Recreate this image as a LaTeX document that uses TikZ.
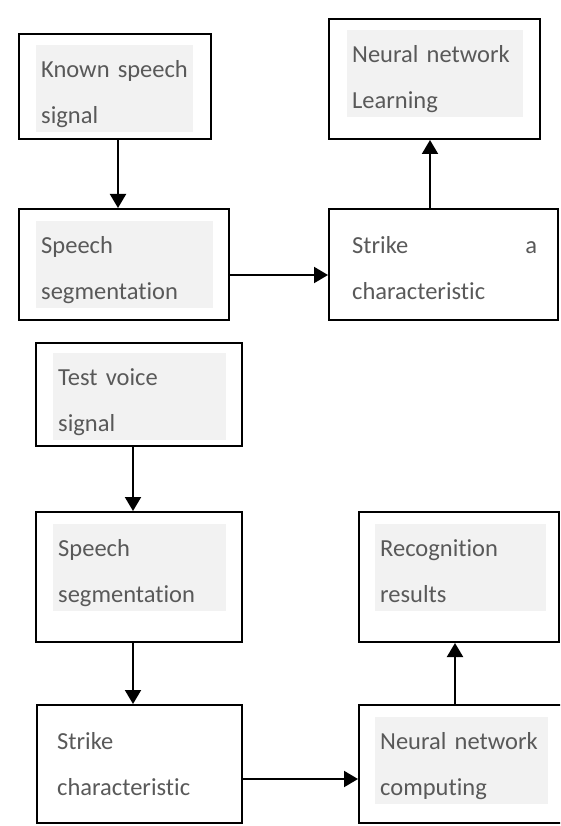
\documentclass[tikz,border=0pt]{standalone}
\usepackage{fontspec}
\setmainfont[Ligatures=NoCommon]{Carlito}
\usetikzlibrary{arrows.meta}
\newcommand{\twolines}[2]{\rule{0pt}{32pt}#1\\#2\rule[-9pt]{0pt}{9pt}}

\begin{document}
\begin{tikzpicture}[x=1pt,y=-1pt,
    box/.style={draw,line width=2pt,inner sep=0pt},
    shade/.style={fill=black!5,anchor=north west,inner xsep=5pt,inner ysep=0pt,align=left,text=black!65,font=\fontsize{24.5}{46}\selectfont},
    plain/.style={shade,fill=none},
    arr/.style={line width=2pt,-{Triangle[length=14pt,width=16pt]}}]
\useasboundingbox (0,0) rectangle (560,826);
\clip (0,0) rectangle (560,826);
% training part
\node[box,minimum width=192,minimum height=105] (known) at (115,86.5) {};
\node[box,minimum width=211,minimum height=120] (learn) at (434.5,79) {};
\node[box,minimum width=210,minimum height=111] (seg1) at (124,264.5) {};
\node[box,minimum width=229,minimum height=111] (strike1) at (443.5,264.5) {};
\node[shade,text width=147] (knowntext) at (36,45) {\twolines{Known speech}{signal}};
\node[shade,text width=166] (learntext) at (347,30) {\twolines{Neural network}{Learning}};
\node[shade,text width=167] (seg1text) at (36,221) {\twolines{Speech}{segmentation}};
\node[plain,text width=185] (strike1text) at (347,221) {\twolines{Strike \hfill a}{characteristic}};

% recognition part
\node[box,minimum width=206,minimum height=103] (test) at (139,394.5) {};
\node[box,minimum width=206,minimum height=130] (seg2) at (139,577) {};
\node[box,minimum width=200,minimum height=130] (result) at (459,577) {};
\node[box,minimum width=205,minimum height=118] (strike2) at (139.5,764) {};
\node[box,minimum width=216,minimum height=118] (compute) at (467,764) {};
\node[shade,text width=163] (testtext) at (53,353) {\twolines{Test voice}{signal}};
\node[shade,text width=163] (seg2text) at (53,524) {\twolines{Speech}{segmentation}};
\node[shade,text width=161] (resulttext) at (375,524) {\twolines{Recognition}{results}};
\node[plain,text width=170] (strike2text) at (52,717) {\twolines{Strike}{characteristic}};
\node[shade,text width=163] (computetext) at (375,717) {\twolines{Neural network}{computing}};

\coordinate (k1) at ([xshift=3pt]known.south);
\coordinate (s1) at ([yshift=-10.5pt]seg1.east);
\coordinate (l1) at ([xshift=-4.5pt]learn.south);
\coordinate (t1) at ([xshift=-6pt]test.south);
\coordinate (s2) at ([xshift=-6pt]seg2.south);
\coordinate (s3) at ([yshift=-15pt]strike2.east);
\coordinate (r1) at ([xshift=-4pt]result.south);

\path [arr] (k1) edge (k1 |- seg1.north);
\path [arr] (s1) edge (s1 -| strike1.west);
\path [arr] (l1 |- strike1.north) edge (l1);
\path [arr] (t1) edge (t1 |- seg2.north);
\path [arr] (s2) edge (s2 |- strike2.north);
\path [arr] (s3) edge (s3 -| compute.west);
\path [arr] (r1 |- compute.north) edge (r1);
\end{tikzpicture}
\end{document}
